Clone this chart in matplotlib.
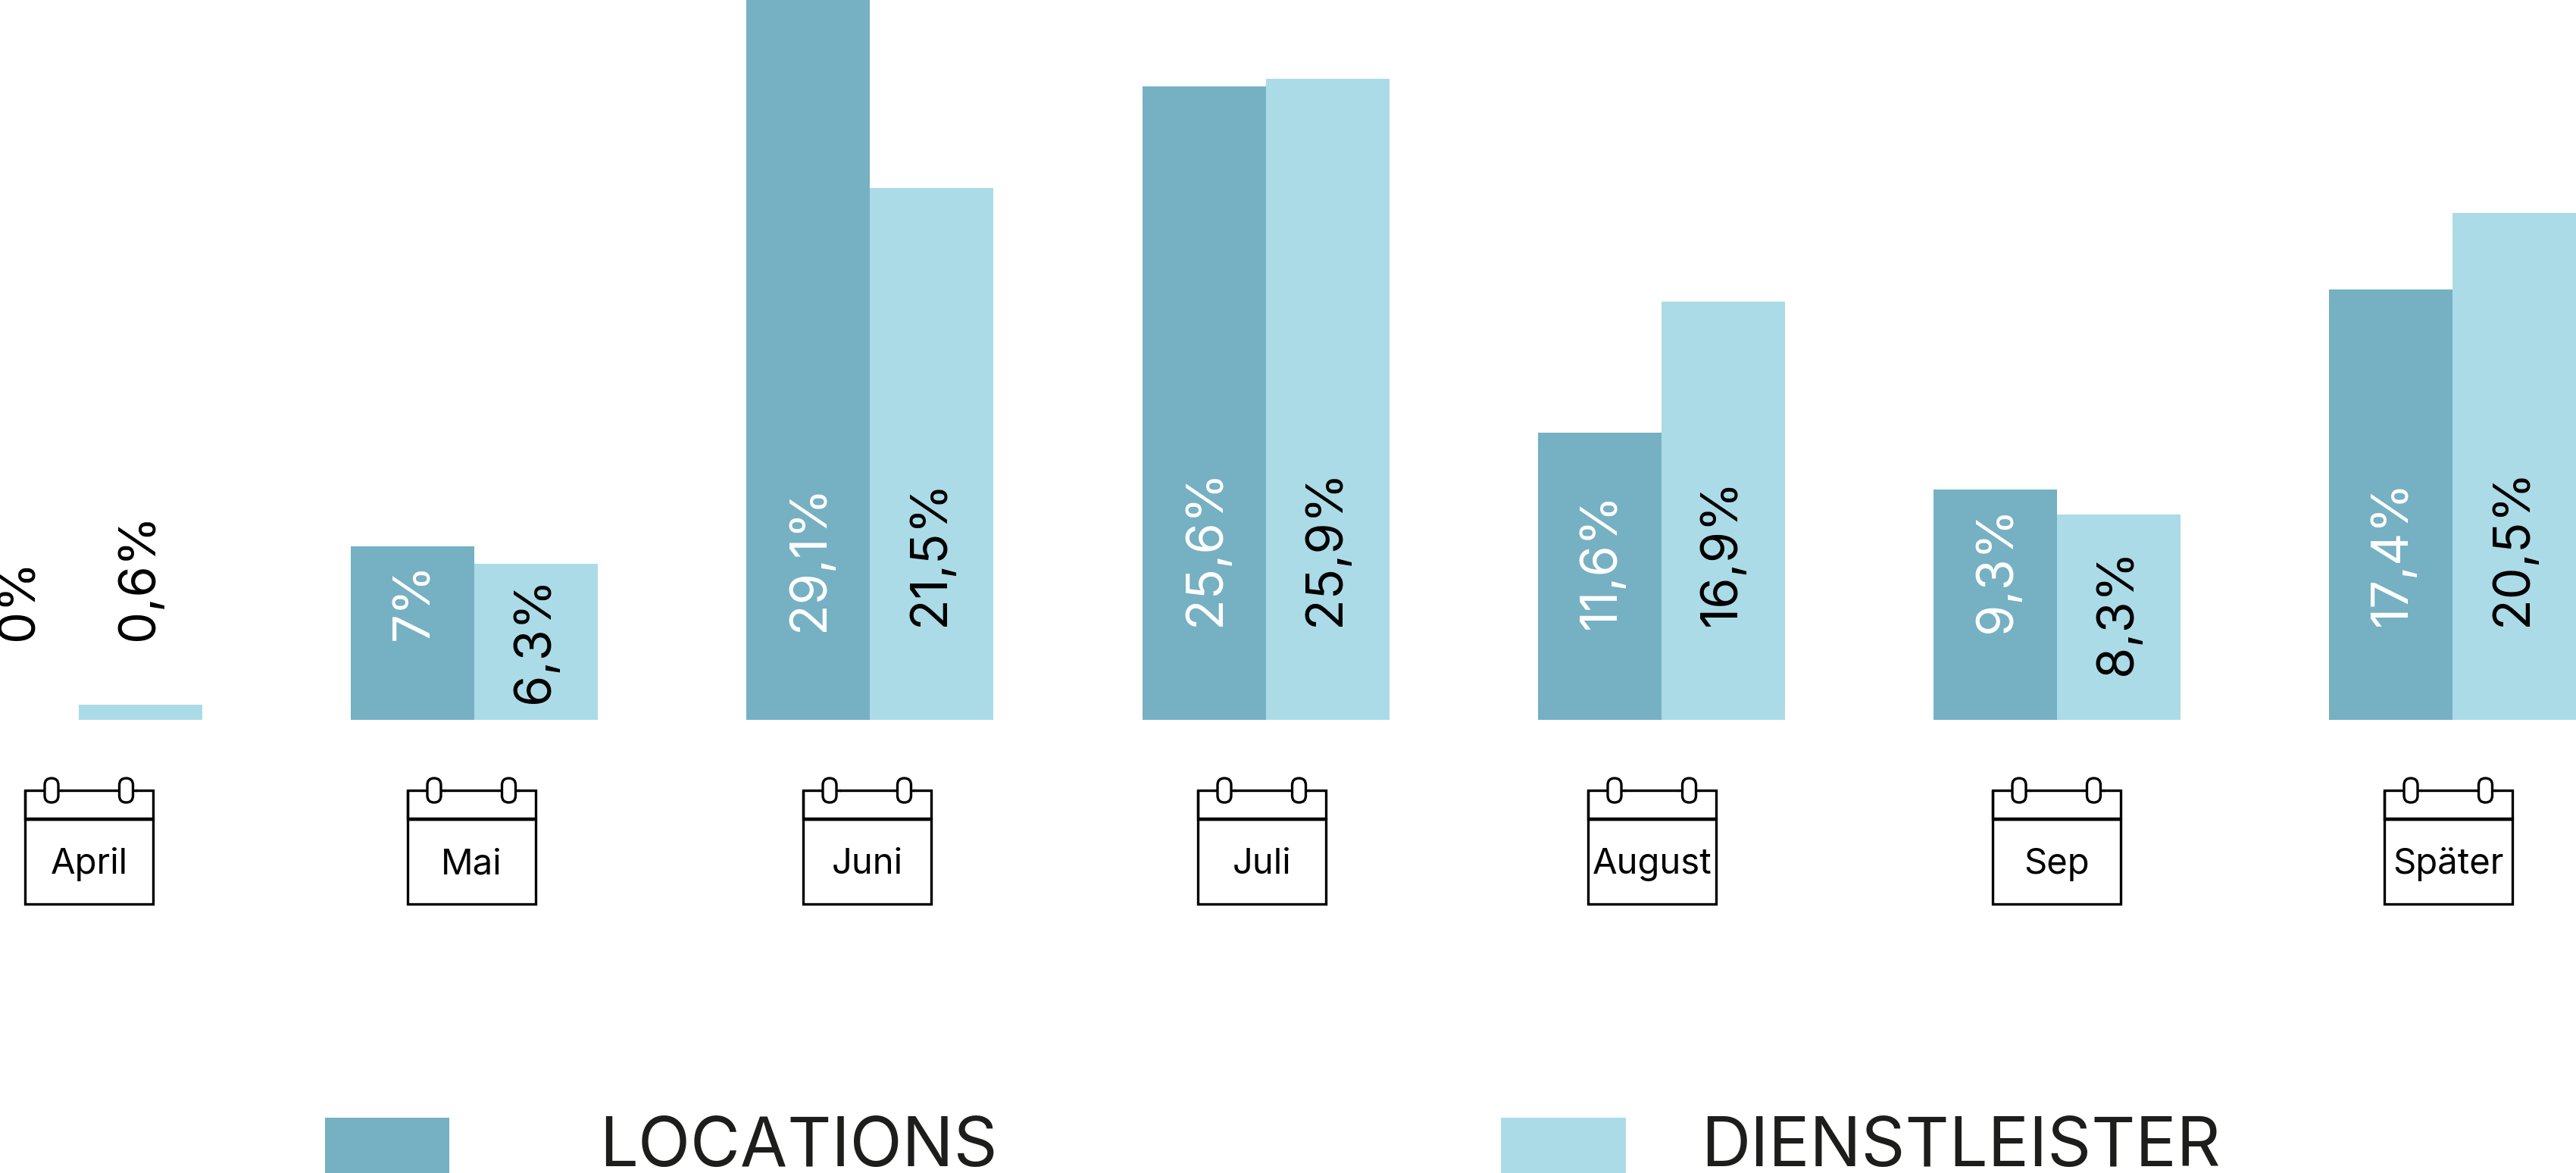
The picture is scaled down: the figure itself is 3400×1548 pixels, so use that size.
import numpy as np
import matplotlib
matplotlib.use("Agg")
import matplotlib.pyplot as plt
from matplotlib.patches import Rectangle, FancyBboxPatch

plt.rcParams['font.family'] = ['Inter', 'DejaVu Sans']

months = ['April', 'Mai', 'Juni', 'Juli', 'August', 'Sep', 'Später']
locations = [0, 7, 29.1, 25.6, 11.6, 9.3, 17.4]
dienstleister = [0.6, 6.3, 21.5, 25.9, 16.9, 8.3, 20.5]
locations_text = ['0%', '7%', '29,1%', '25,6%', '11,6%', '9,3%', '17,4%']
dienstleister_text = ['0,6%', '6,3%', '21,5%', '25,9%', '16,9%', '8,3%', '20,5%']

# Pixel layout of the picture
W, H = 3400, 1548
BASE_Y = 950
PX_PER_PCT = 32.65
FIRST_X = 104
STEP_X = 522.17
BAR_W = 163 / STEP_X

# lower end of the rotated labels, in px from the top
loc_label_y = [845, 845, 833, 826, 830, 835, 826]
dl_label_y = [845, 928, 826, 826, 826, 891, 826]
cal_left = [33, 538, 1060, 1581, 2096, 2630, 3147]

DARK = '#76B0C3'
LIGHT = '#ABDBE7'
INK = '#1D1D1B'


def px_to_pct(y):
    return (BASE_Y - y) / PX_PER_PCT


fig = plt.figure(figsize=(W / 100, H / 100), dpi=100)
ax = fig.add_axes([0, 0, 1, 1])
ax.set_xlim(-FIRST_X / STEP_X, (W - FIRST_X) / STEP_X)
ax.set_ylim(px_to_pct(H), px_to_pct(0))
ax.axis('off')

x = np.arange(len(months))
ax.bar(x - BAR_W / 2, locations, BAR_W, color=DARK, linewidth=0)
ax.bar(x + BAR_W / 2, dienstleister, BAR_W, color=LIGHT, linewidth=0)

for i in x:
    color = 'black' if locations[i] == 0 else 'white'
    ax.text(i - BAR_W / 2 + 0.006, px_to_pct(loc_label_y[i]), locations_text[i],
            rotation=90, ha='center', va='bottom', fontsize=48, color=color)
    ax.text(i + BAR_W / 2 - 0.002, px_to_pct(dl_label_y[i]), dienstleister_text[i],
            rotation=90, ha='center', va='bottom', fontsize=48, color='black')

# second axes in pixels for the calendars and the legend
pa = fig.add_axes([0, 0, 1, 1], facecolor='none')
pa.set_xlim(0, W)
pa.set_ylim(H, 0)
pa.axis('off')


def draw_calendar(left, label):
    right = left + 169
    top, head, bottom = 1043, 1081, 1193
    lw = 2.4
    pa.plot([left, left, right, right, left, left], [head, bottom, bottom, head, head, top],
            color='black', lw=lw, solid_joinstyle='miter', solid_capstyle='butt')
    pa.plot([left, right], [head, head], color='black', lw=3.2, solid_capstyle='butt')
    pa.plot([left, left, right, right], [head, top, top, head], color='black', lw=lw,
            solid_joinstyle='miter', solid_capstyle='butt')
    for ring in (35, 133.5):
        cx = left + ring
        pa.add_patch(Rectangle((cx - 13, top - 4), 26, 8, fc='white', ec='none', zorder=3))
        pa.plot([cx - 13, cx + 13], [top, top], color='black', lw=lw, zorder=3.1)
        pa.add_patch(FancyBboxPatch((cx - 9, 1027), 18, 32, boxstyle='round,pad=0,rounding_size=9',
                                    fc='white', ec='black', lw=lw, zorder=4, mutation_aspect=1))
    pa.text(left + 84.5, 1153, label, ha='center', va='baseline', fontsize=34, color='black')


for left, month in zip(cal_left, months):
    draw_calendar(left, month)

pa.add_patch(Rectangle((429, 1475), 164, 80, fc=DARK, ec='none'))
pa.add_patch(Rectangle((1981, 1475), 165, 80, fc=LIGHT, ec='none'))
pa.text(791, 1539, 'LOCATIONS', fontsize=65, color=INK, va='baseline')
pa.text(2245, 1539, 'DIENSTLEISTER', fontsize=65, color=INK, va='baseline')

fig.savefig('out.png', dpi=100, facecolor='white')
